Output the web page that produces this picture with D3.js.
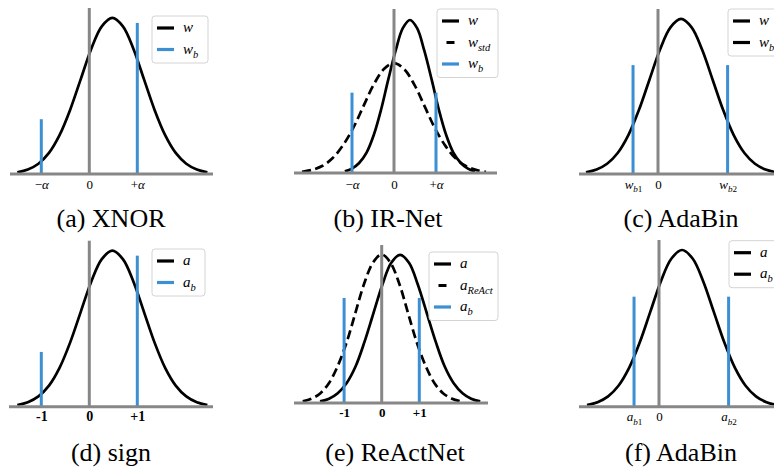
<!DOCTYPE html>
<html>
<head>
<meta charset="utf-8">
<script src="https://cdn.jsdelivr.net/npm/d3@7"></script>
<style>
  body { margin: 0; background: #fff; }
</style>
</head>
<body>
<svg id="fig" width="774" height="467"></svg>
<script>
// points: [x, height]
// x in units of the binarized level (alpha / 1), height as a fraction of the y axis
const baseCurve = [[-1.50,0.010],[-1.28,0.027],[-1.06,0.062],[-0.84,0.127],[-0.62,0.234],[-0.40,0.386],[-0.18,0.570],[0.04,0.753],[0.26,0.889],[0.48,0.940],[0.70,0.889],[0.92,0.753],[1.14,0.570],[1.36,0.386],[1.58,0.234],[1.80,0.127],[2.02,0.062],[2.24,0.027],[2.46,0.010]];
const irCurve = [[-1.17,0.010],[-1.00,0.027],[-0.83,0.061],[-0.65,0.126],[-0.48,0.233],[-0.31,0.384],[-0.14,0.566],[0.04,0.747],[0.21,0.883],[0.38,0.933],[0.55,0.883],[0.72,0.747],[0.90,0.566],[1.07,0.384],[1.24,0.233],[1.41,0.126],[1.59,0.061],[1.76,0.027],[1.93,0.010]];
const irStdCurve = [[-2.19,0.007],[-1.95,0.019],[-1.70,0.044],[-1.46,0.091],[-1.22,0.167],[-0.97,0.275],[-0.73,0.406],[-0.49,0.536],[-0.24,0.634],[0,0.670],[0.24,0.634],[0.49,0.536],[0.73,0.406],[0.97,0.275],[1.22,0.167],[1.46,0.091],[1.70,0.044],[1.95,0.019],[2.19,0.007]];
const reactCurve = [[-1.64,0.010],[-1.40,0.027],[-1.17,0.062],[-0.93,0.127],[-0.69,0.234],[-0.46,0.385],[-0.22,0.568],[0.02,0.750],[0.25,0.886],[0.49,0.937],[0.73,0.886],[0.96,0.750],[1.20,0.568],[1.44,0.385],[1.67,0.234],[1.91,0.127],[2.15,0.062],[2.38,0.027],[2.62,0.010]];
const reactShiftCurve = [[-2.10,0.010],[-1.87,0.027],[-1.63,0.062],[-1.40,0.127],[-1.17,0.234],[-0.93,0.386],[-0.70,0.570],[-0.47,0.753],[-0.23,0.889],[0,0.940],[0.23,0.889],[0.47,0.753],[0.70,0.570],[0.93,0.386],[1.17,0.234],[1.40,0.127],[1.63,0.062],[1.87,0.027],[2.10,0.010]];

// binarized values: [x, height]
const stemsSign = [[-1, 0.33], [1, 0.91]];
const stemsIr = [[-1, 0.49], [1, 0.49]];
const stemsAda = [[-0.52, 0.66], [1.45, 0.66]];
const stemsReact = [[-1, 0.665], [1, 0.665]];

const ticksSym = [-1, 0, 1];
const ticksAda = [-0.52, 0, 1.45];
const tickLabelsAlpha = ["\u2212α", "0", "+α"];
const tickLabelsOne = ["-1", "0", "+1"];
const tickLabelsAdaW = ["w_b1", "0", "w_b2"];
const tickLabelsAdaA = ["a_b1", "0", "a_b2"];

const legendXnor = ["w", "w_b"];
const legendIr = ["w", "w_std", "w_b"];
const legendAdaW = ["w", "w_b"];
const legendSign = ["a", "a_b"];
const legendReact = ["a", "a_ReAct", "a_b"];
const legendAdaA = ["a", "a_b"];

const captions = ["(a) XNOR", "(b) IR-Net", "(c) AdaBin", "(d) sign", "(e) ReActNet", "(f) AdaBin"];

const BLUE = "#3b8fd2", GRAY = "#878787", DASH = "9,4.5";
const FONT = '"Liberation Serif"';

const panels = [
  { origin: 89.3, unit: 48, ax: [10, 213], base: 174, top: 8, capX: 111, capY: 227,
    curves: [[baseCurve, false]], stems: stemsSign, ticks: ticksSym, tickLabels: tickLabelsAlpha, tickDy: 15, bold: false,
    legend: { labels: legendXnor, kinds: ["solid", "blue"], x: 152, y: 16, w: 56 } },
  { origin: 394, unit: 42, ax: [294, 497], base: 173, top: 9, capX: 388, capY: 227,
    curves: [[irCurve, false], [irStdCurve, true]], stems: stemsIr, ticks: ticksSym, tickLabels: tickLabelsAlpha, tickDy: 15.5, bold: false,
    legend: { labels: legendIr, kinds: ["solid", "dashed", "blue"], x: 437, y: 9, w: 61 } },
  { origin: 658, unit: 48, ax: [579, 782], base: 174, top: 9, capX: 681, capY: 227,
    curves: [[baseCurve, false]], stems: stemsAda, ticks: ticksAda, tickLabels: tickLabelsAdaW, tickDy: 14.5, bold: false,
    legend: { labels: legendAdaW, kinds: ["solid", "solid"], x: 728, y: 9, w: 62 } },
  { origin: 89.3, unit: 48, ax: [9, 213], base: 406.7, top: 240.7, capX: 111, capY: 461,
    curves: [[baseCurve, false]], stems: stemsSign, ticks: ticksSym, tickLabels: tickLabelsOne, tickDy: 14.5, bold: true, tickSize: 14,
    legend: { labels: legendSign, kinds: ["solid", "blue"], x: 152, y: 249, w: 53 } },
  { origin: 381.7, unit: 37.6, ax: [294, 488], base: 403, top: 245, capX: 395, capY: 461,
    curves: [[reactCurve, false], [reactShiftCurve, true]], stems: stemsReact, ticks: ticksSym, tickLabels: tickLabelsOne, tickDy: 14, bold: true, tickSize: 13,
    legend: { labels: legendReact, kinds: ["solid", "dashed", "blue"], x: 429, y: 252, w: 69 } },
  { origin: 659, unit: 48, ax: [579, 783], base: 406.7, top: 240, capX: 681, capY: 461,
    curves: [[baseCurve, false]], stems: stemsAda, ticks: ticksAda, tickLabels: tickLabelsAdaA, tickDy: 14.5, bold: false,
    legend: { labels: legendAdaA, kinds: ["solid", "solid"], x: 729, y: 240.7, w: 62 } }
];

const svg = d3.select("#fig");

// letters in italic (math), digits and signs upright, "_" starts a subscript
function runs(s) { return s.match(/[A-Za-zα]+|[^A-Za-zα]+/g) || []; }
function rich(text, str, size) {
  text.text(null);
  const parts = str.split("_");
  runs(parts[0]).forEach(r => text.append("tspan")
    .attr("font-style", /[A-Za-zα]/.test(r) ? "italic" : null).text(r));
  if (parts[1]) {
    runs(parts[1]).forEach((r, i) => text.append("tspan")
      .attr("font-size", size * 0.7)
      .attr("dy", i === 0 ? size * 0.28 : null)
      .attr("font-style", /[A-Za-z]/.test(r) ? "italic" : null)
      .text(r));
  }
}

panels.forEach((p, pi) => {
  const g = svg.append("g");
  const x = d3.scaleLinear().domain([0, 1]).range([p.origin, p.origin + p.unit]);
  const y = d3.scaleLinear().domain([0, 1]).range([p.base, p.top]);
  const line = d3.line().x(d => x(d[0])).y(d => y(d[1])).curve(d3.curveCatmullRom);

  p.curves.forEach(([pts, dashed]) => {
    g.append("path").datum(pts)
      .attr("d", line)
      .attr("fill", "none")
      .attr("stroke", "#000")
      .attr("stroke-width", 2.7)
      .attr("stroke-dasharray", dashed ? DASH : null);
  });

  g.selectAll("line.stem").data(p.stems).join("line")
    .attr("class", "stem")
    .attr("x1", d => x(d[0])).attr("x2", d => x(d[0]))
    .attr("y1", y(0)).attr("y2", d => y(d[1]))
    .attr("stroke", BLUE).attr("stroke-width", 3);

  // spines through the origin
  g.append("line")
    .attr("x1", p.ax[0]).attr("x2", p.ax[1]).attr("y1", y(0)).attr("y2", y(0))
    .attr("stroke", GRAY).attr("stroke-width", 3);
  g.append("line")
    .attr("x1", x(0)).attr("x2", x(0)).attr("y1", y(0)).attr("y2", y(1))
    .attr("stroke", GRAY).attr("stroke-width", 3);

  const axis = g.append("g")
    .attr("transform", `translate(0,${y(0)})`)
    .call(d3.axisBottom(x).tickValues(p.ticks).tickSize(0).tickFormat(""));
  axis.select(".domain").remove();
  axis.attr("font-family", null).attr("font-size", null);
  const ts = p.bold ? p.tickSize : 13;
  axis.selectAll(".tick text")
    .attr("y", p.tickDy).attr("dy", null)
    .attr("fill", "#000")
    .attr("font-family", FONT)
    .attr("font-size", ts)
    .attr("font-weight", p.bold ? "bold" : null)
    .each(function (d, i) {
      const t = d3.select(this);
      if (p.bold) t.text(p.tickLabels[i]);
      else rich(t, p.tickLabels[i], ts);
    });

  // legend
  const L = p.legend, rowH = 21.5;
  const lg = g.append("g");
  lg.append("rect")
    .attr("x", L.x).attr("y", L.y)
    .attr("width", L.w).attr("height", L.labels.length * rowH + 4)
    .attr("rx", 3)
    .attr("fill", "#fff").attr("fill-opacity", 0.85)
    .attr("stroke", "#d4d4d4").attr("stroke-width", 1);
  L.labels.forEach((lab, i) => {
    const yy = L.y + 12 + i * rowH;
    const kind = L.kinds[i];
    lg.append("line")
      .attr("x1", L.x + 5).attr("x2", L.x + 22)
      .attr("y1", yy).attr("y2", yy)
      .attr("stroke", kind === "blue" ? BLUE : "#000")
      .attr("stroke-width", 3.2)
      .attr("stroke-dasharray", kind === "dashed" ? "0,4.5,8,20" : null);
    const t = lg.append("text")
      .attr("x", L.x + 31).attr("y", yy + 4)
      .attr("font-family", FONT)
      .attr("font-size", 15);
    rich(t, lab, 15);
  });

  svg.append("text")
    .attr("x", p.capX).attr("y", p.capY)
    .attr("text-anchor", "middle")
    .attr("font-family", FONT)
    .attr("font-size", 26)
    .text(captions[pi]);
});
</script>
</body>
</html>
